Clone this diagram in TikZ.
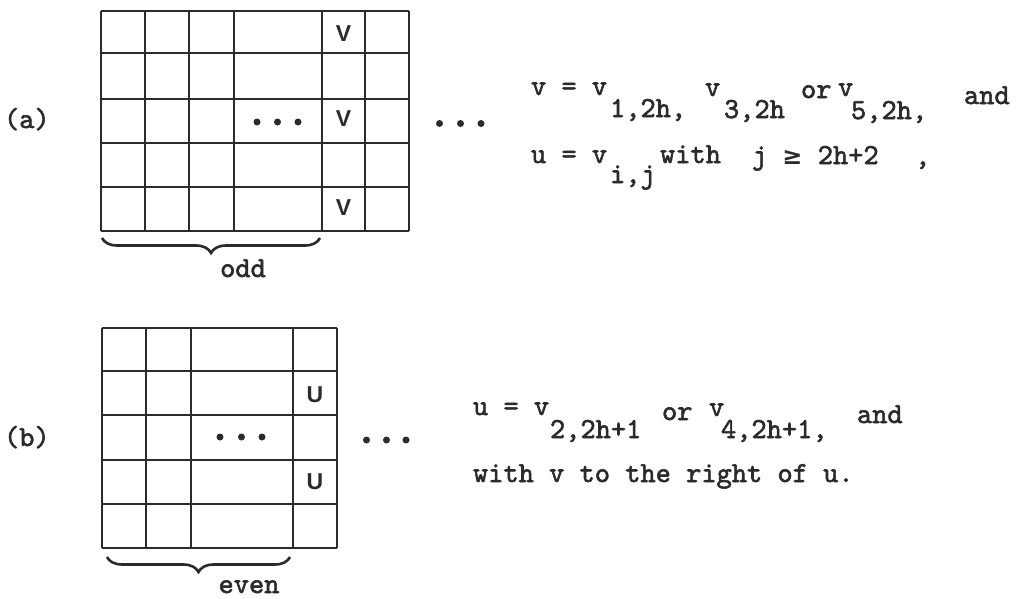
\documentclass[tikz,border=0pt]{standalone}
\usepackage{fontspec}
\newfontfamily\lblfont{Liberation Sans}
\newfontfamily\symfont{DejaVu Sans}
\newfontfamily\twfont{lmmono10-regular.otf}[FakeBold=2]
\usetikzlibrary{decorations.pathreplacing}
\definecolor{ink}{HTML}{2B2B2B}
\tikzset{
  tw/.style={font={\twfont\fontsize{29}{32}\selectfont}, anchor=base west, inner sep=0pt, outer sep=0pt, text=ink},
  gridline/.style={draw=ink, line width=2.6pt, line cap=square},
  cellmark/.style={font={\lblfont\bfseries\fontsize{23}{26}\selectfont}, inner sep=0pt, text=ink},
  dotmark/.style={circle, fill=ink, inner sep=0pt, minimum size=7pt},
  bracedeco/.style={draw=ink, line width=2.6pt, decorate, decoration={brace, mirror, amplitude=#1}}
}
\begin{document}
\begin{tikzpicture}[x=1pt, y=-1pt]
\useasboundingbox (0,0) rectangle (1017,598);
\clip (0,0) rectangle (1017,598);

% ---------- grid (a)
\foreach \x in {101,145,189,234,322,365,409} \draw[gridline] (\x,11) -- (\x,231);
\foreach \y in {11,53,99,143,187,231} \draw[gridline] (101,\y) -- (409,\y);
\node[cellmark] (va1) at (343.5,34) {V};
\node[cellmark] (va3) at (343.5,119) {V};
\node[cellmark] (va5) at (343.5,208) {V};
\node[dotmark] (ga1) at (257,122) {};
\node[dotmark] (ga2) at (277.5,122) {};
\node[dotmark] (ga3) at (298,122) {};
\draw[bracedeco=15pt] (102,238) -- (320,238);
\node[tw, anchor=base] (odd) at (243,277) {odd};

% ---------- grid (b)
\foreach \x in {102,146,191,293,337} \draw[gridline] (\x,328) -- (\x,548);
\foreach \y in {328,371,415,460,504,548} \draw[gridline] (102,\y) -- (337,\y);
\node[cellmark] (ub2) at (315,394.5) {U};
\node[cellmark] (ub4) at (315,482) {U};
\node[dotmark] (gb1) at (220,437) {};
\node[dotmark] (gb2) at (241.5,437) {};
\node[dotmark] (gb3) at (262,437) {};
\draw[bracedeco=15pt] (107,557) -- (290,557);
\node[tw, anchor=base] (even) at (249,593) {even};

% ---------- labels
\node[tw] (la) at (4,128) {(a)};
\node[tw] (lb) at (4,446) {(b)};

% ---------- outer dots
\node[dotmark] (oa1) at (439.5,123.5) {};
\node[dotmark] (oa2) at (460.5,123.5) {};
\node[dotmark] (oa3) at (481,123.5) {};
\node[dotmark] (ob1) at (366.5,440) {};
\node[dotmark] (ob2) at (386.5,440) {};
\node[dotmark] (ob3) at (406,440) {};

% ---------- text (a)
\node[tw] (a1) at (531,95) {v = v};
\node[tw] (a2) at (610,117) {1,2h,};
\node[tw] (a3) at (705,96) {v};
\node[tw] (a4) at (724,118) {3,2h};
\node[tw] (a5) at (801,98) {or};
\node[tw] (a6) at (838,96) {v};
\node[tw] (a7) at (851,119) {5,2h,};
\node[tw] (a8) at (964,104) {and};
\node[tw] (a9) at (531,163) {u = v};
\node[tw] (a10) at (610,183) {i,j};
\node[tw] (a11) at (660,163) {with};
\node[tw] (a12) at (752,164) {j {\symfont\bfseries\fontsize{24}{28}\selectfont ≥} 2h+2};
\node[tw] (a13) at (915,165) {,};

% ---------- text (b)
\node[tw] (b1) at (473,415) {u = v};
\node[tw] (b2) at (550,438) {2,2h+1};
\node[tw] (b3) at (662,420) {or};
\node[tw] (b4) at (709,416) {v};
\node[tw] (b5) at (721,438) {4,2h+1,};
\node[tw] (b6) at (857,423) {and};
\node[tw] (b7) at (473,482) {with v to the right of u.};
\end{tikzpicture}
\end{document}
